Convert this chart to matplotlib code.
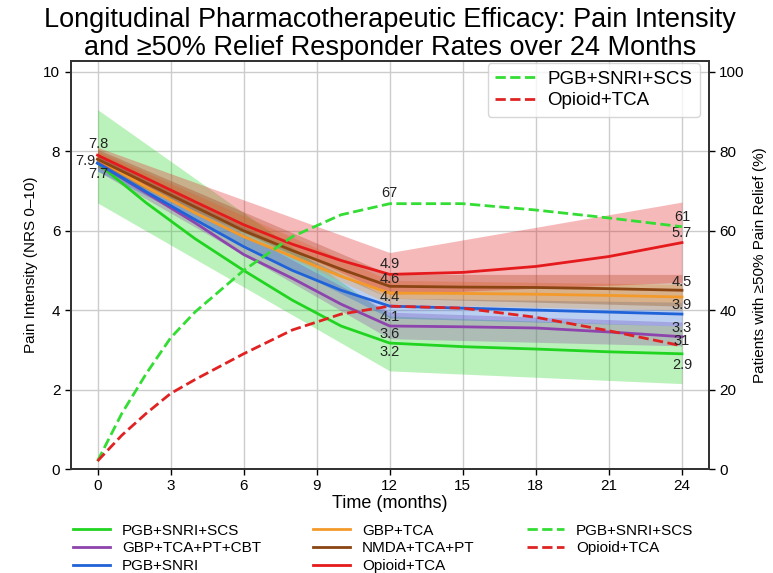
import matplotlib
matplotlib.use("Agg")
import matplotlib.pyplot as plt

plt.rcParams['font.family'] = ['Liberation Sans', 'DejaVu Sans']

# === Dati ===
months = [0, 2, 4, 6, 8, 10, 12, 15, 18, 21, 24]
pgb_snri_scs = [7.7, 6.7, 5.8, 5.0, 4.25, 3.6, 3.17, 3.08, 3.02, 2.95, 2.9]
gbp_tca_pt_cbt = [7.7, 6.95, 6.2, 5.4, 4.8, 4.15, 3.6, 3.58, 3.55, 3.45, 3.33]
pgb_snri = [7.7, 6.98, 6.28, 5.6, 5.0, 4.5, 4.1, 4.05, 4.0, 3.95, 3.9]
gbp_tca = [7.8, 7.1, 6.45, 5.85, 5.35, 4.85, 4.43, 4.42, 4.4, 4.37, 4.33]
nmda_tca_pt = [7.8, 7.2, 6.6, 6.0, 5.5, 5.03, 4.6, 4.58, 4.57, 4.54, 4.5]
opioid_tca = [7.9, 7.32, 6.73, 6.15, 5.66, 5.25, 4.9, 4.95, 5.1, 5.35, 5.7]

# intervalli (mesi 0, 12, 24)
band_months = [0, 12, 24]
pgb_snri_scs_lo = [6.7, 2.47, 2.15]
pgb_snri_scs_hi = [9.05, 3.85, 3.6]
gbp_tca_pt_cbt_lo = [7.5, 3.28, 3.1]
gbp_tca_pt_cbt_hi = [7.9, 3.95, 3.7]
pgb_snri_lo = [7.5, 3.8, 3.6]
pgb_snri_hi = [7.9, 4.3, 4.2]
gbp_tca_lo = [7.6, 4.15, 4.0]
gbp_tca_hi = [8.0, 4.75, 4.65]
nmda_tca_pt_lo = [7.6, 4.3, 4.1]
nmda_tca_pt_hi = [8.05, 4.9, 4.9]
opioid_tca_lo = [7.7, 4.4, 4.7]
opioid_tca_hi = [8.1, 5.45, 6.72]

# responder >=50% (asse destro)
resp_months = [0, 1, 2, 3, 4, 6, 8, 10, 12, 15, 18, 21, 24]
resp_pgb_snri_scs = [2, 14, 24, 33, 39.5, 50, 58.5, 64, 66.8, 66.8, 65.2, 63.2, 61]
resp_opioid_tca = [2, 8.5, 14, 19, 22.5, 29, 35, 39, 41, 40.5, 38.2, 34.8, 31]

# === Stili ===
series = [
    ("PGB+SNRI+SCS", pgb_snri_scs, pgb_snri_scs_lo, pgb_snri_scs_hi, "#20d420"),
    ("GBP+TCA+PT+CBT", gbp_tca_pt_cbt, gbp_tca_pt_cbt_lo, gbp_tca_pt_cbt_hi, "#8e44ad"),
    ("PGB+SNRI", pgb_snri, pgb_snri_lo, pgb_snri_hi, "#2062d8"),
    ("GBP+TCA", gbp_tca, gbp_tca_lo, gbp_tca_hi, "#f39a2b"),
    ("NMDA+TCA+PT", nmda_tca_pt, nmda_tca_pt_lo, nmda_tca_pt_hi, "#8b4513"),
    ("Opioid+TCA", opioid_tca, opioid_tca_lo, opioid_tca_hi, "#e41a1c"),
]

# offset etichette (punti) per mese 0 / 12 / 24
label_offsets = {
    "PGB+SNRI+SCS": {12: (0, -6.3), 24: (0, -8)},
    "GBP+TCA+PT+CBT": {12: (0, -5.8), 24: (0, 6.5)},
    "PGB+SNRI": {0: (0.7, -7.8), 12: (0, -7.7), 24: (0, 6.5)},
    "GBP+TCA": {12: (0, -2.6)},
    "NMDA+TCA+PT": {0: (0.7, 10.9), 12: (0, 5), 24: (0, 6.1)},
    "Opioid+TCA": {0: (-8.6, -4.2), 12: (0, 7.4), 24: (0, 6.6)},
}

fig = plt.figure(figsize=(7.73, 5.73), dpi=100)
ax = fig.add_axes([0.0915, 0.1815, 0.8254, 0.7126])
ax2 = ax.twinx()

for name, vals, lo, hi, col in series:
    ax.fill_between(band_months, lo, hi, color=col, alpha=0.3, lw=0, zorder=1)

for name, vals, lo, hi, col in series:
    ax.plot(months, vals, color=col, lw=2, label=name, zorder=3)
    for m, off in label_offsets[name].items():
        v = vals[months.index(m)]
        ax.annotate(f"{v:.1f}", (m, v), xytext=off, textcoords='offset points',
                    ha='center', va='center', fontsize=10.5, color='#222222', zorder=5)

ax2.plot(resp_months, resp_pgb_snri_scs, '--', color="#33dd33", lw=2, label="PGB+SNRI+SCS")
ax2.plot(resp_months, resp_opioid_tca, '--', color="#e02222", lw=2, label="Opioid+TCA")
for vals, offs in [(resp_pgb_snri_scs, {12: (0, 7.8), 24: (0, 7.1)}), (resp_opioid_tca, {24: (0, 3.7)})]:
    for m, off in offs.items():
        v = vals[resp_months.index(m)]
        ax2.annotate(f"{v:.0f}", (m, v), xytext=off, textcoords='offset points',
                     ha='center', va='center', fontsize=10.5, color='#222222')

ax.set_xlim(-1.1, 25.1)
ax.set_ylim(0, 10.28)
ax2.set_ylim(0, 102.8)
ax.set_xticks(range(0, 25, 3))
ax.set_yticks(range(0, 11, 2))
ax2.set_yticks(range(0, 101, 20))
ax.grid(True, color='#cccccc', lw=1)
ax.set_axisbelow(True)

for a in (ax, ax2):
    a.tick_params(labelsize=11, length=4, width=1)
    for s in a.spines.values():
        s.set_linewidth(1.3)
        s.set_color('#333333')

ax.set_xlabel("Time (months)", fontsize=13, labelpad=1)
ax.set_ylabel("Pain Intensity (NRS 0–10)", fontsize=11)
ax2.set_ylabel("Patients with ≥50% Pain Relief (%)", fontsize=11, labelpad=6)
ax.set_title("Longitudinal Pharmacotherapeutic Efficacy: Pain Intensity\n"
             "and ≥50% Relief Responder Rates over 24 Months", fontsize=19.5, linespacing=1.1, pad=3)

ax2.legend(loc='upper right', bbox_to_anchor=(0.9864, 0.9944), borderaxespad=0,
           fontsize=13.5, handlelength=2.3, handletextpad=0.5, labelspacing=0.25)

h1, l1 = ax.get_legend_handles_labels()
h2, l2 = ax2.get_legend_handles_labels()
fig.legend(h1 + h2, l1 + l2, ncol=3, loc='upper left', bbox_to_anchor=(0.0862, 0.097),
           frameon=False, fontsize=11, handlelength=2.45, handletextpad=0.77,
           columnspacing=3.4, labelspacing=0.25, borderaxespad=0)

fig.savefig("out.png", dpi=100)
